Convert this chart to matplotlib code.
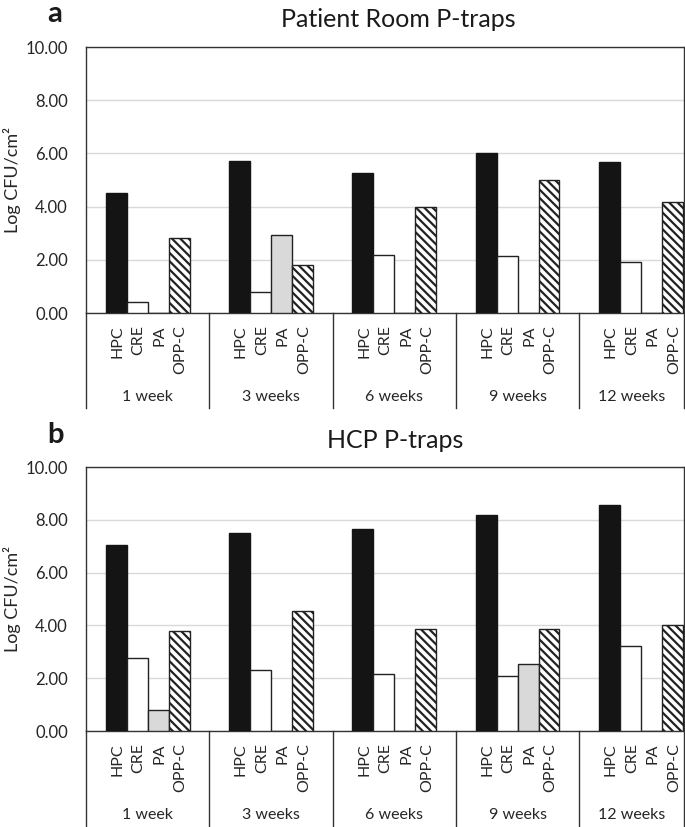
import matplotlib
matplotlib.use("Agg")
import matplotlib.pyplot as plt
import matplotlib.transforms as mtransforms
import numpy as np

plt.rcParams['font.family'] = ['Lato', 'DejaVu Sans']
plt.rcParams['hatch.linewidth'] = 1.6

weeks = ["1 week", "3 weeks", "6 weeks", "9 weeks", "12 weeks"]
organisms = ["HPC", "CRE", "PA", "OPP-C"]

# Panel a: Patient Room P-traps
room_hpc = [4.52, 5.73, 5.27, 6.03, 5.69]
room_cre = [0.40, 0.78, 2.18, 2.15, 1.93]
room_pa = [0.00, 2.93, 0.00, 0.00, 0.00]
room_oppc = [2.81, 1.80, 4.00, 4.99, 4.17]

# Panel b: HCP P-traps
hcp_hpc = [7.03, 7.51, 7.65, 8.17, 8.55]
hcp_cre = [2.78, 2.30, 2.15, 2.07, 3.21]
hcp_pa = [0.81, 0.00, 0.00, 2.55, 0.00]
hcp_oppc = [3.78, 4.55, 3.86, 3.86, 4.01]

yticks = [0, 2, 4, 6, 8, 10]

W, H = 685, 827
fig = plt.figure(figsize=(W / 100, H / 100), dpi=100)

def fx(px):
    return px / W

def fy(py):
    return 1 - py / H

txt_col = '#262626'
styles = [
    dict(color='#141414', edgecolor='#141414', hatch=None),
    dict(color='white', edgecolor='#222222', hatch=None),
    dict(color='#d9d9d9', edgecolor='#222222', hatch=None),
    dict(color='white', edgecolor='#222222', hatch='\\\\\\\\'),
]

def draw_panel(top_px, bot_px, series, title, title_x, title_base, letter, letter_base):
    left_px, right_px = 86, 684
    ax = fig.add_axes([fx(left_px), fy(bot_px), fx(right_px) - fx(left_px),
                       fy(top_px) - fy(bot_px)])
    n = len(weeks)
    x = np.arange(n)
    w = 0.17
    for k, vals in enumerate(series):
        st = styles[k]
        ax.bar(x + (k - 1.5) * w, vals, width=w, color=st['color'],
               edgecolor=st['edgecolor'], hatch=st['hatch'], linewidth=1.0,
               zorder=3)
    ax.set_xlim(-0.5, 4.35)
    ax.set_ylim(0, 10)
    ax.set_yticks(yticks)
    ax.set_yticklabels([f"{v:.2f}" for v in yticks], fontsize=12, color=txt_col)
    ax.tick_params(axis='y', length=0, pad=13)
    ax.set_xticks([])
    ax.grid(axis='y', color='#d9d9d9', linewidth=1.0, zorder=0)
    for s in ax.spines.values():
        s.set_color('#333333')
        s.set_linewidth(1.0)

    fig.text(fx(12), fy((top_px + bot_px) / 2), "Log CFU/cm²", rotation=90,
             ha='center', va='center', fontsize=13, color=txt_col)

    h_px = bot_px - top_px
    trans = mtransforms.blended_transform_factory(ax.transData, ax.transAxes)
    depth = -95 / h_px
    for sx in [-0.5, 0.5, 1.5, 2.5, 3.5, 4.35]:
        ax.plot([sx, sx], [0, depth], transform=trans, color='#333333',
                linewidth=1.0, clip_on=False)
    for i in range(n):
        for k, org in enumerate(organisms):
            ax.text(i + (k - 1.5) * w + 0.012, -12 / h_px, org, transform=trans,
                    rotation=90, ha='center', va='top', fontsize=11.5,
                    color=txt_col)
        cx = i if i < n - 1 else (3.5 + 4.35) / 2
        ax.text(cx, -84 / h_px, weeks[i], transform=trans, ha='center',
                va='center', fontsize=11.5, color=txt_col)

    fig.text(fx(title_x), fy(title_base), title, ha='center', va='baseline',
             fontsize=18, color='#1a1a1a')
    fig.text(fx(47), fy(letter_base), letter, ha='left', va='baseline',
             fontsize=21, fontweight='bold', color='#1a1a1a')
    return ax

draw_panel(47, 313, [room_hpc, room_cre, room_pa, room_oppc],
           "Patient Room P-traps", 398, 27, "a", 22)
draw_panel(467, 731, [hcp_hpc, hcp_cre, hcp_pa, hcp_oppc],
           "HCP P-traps", 395, 448, "b", 443)

fig.savefig("out.png", dpi=100)
